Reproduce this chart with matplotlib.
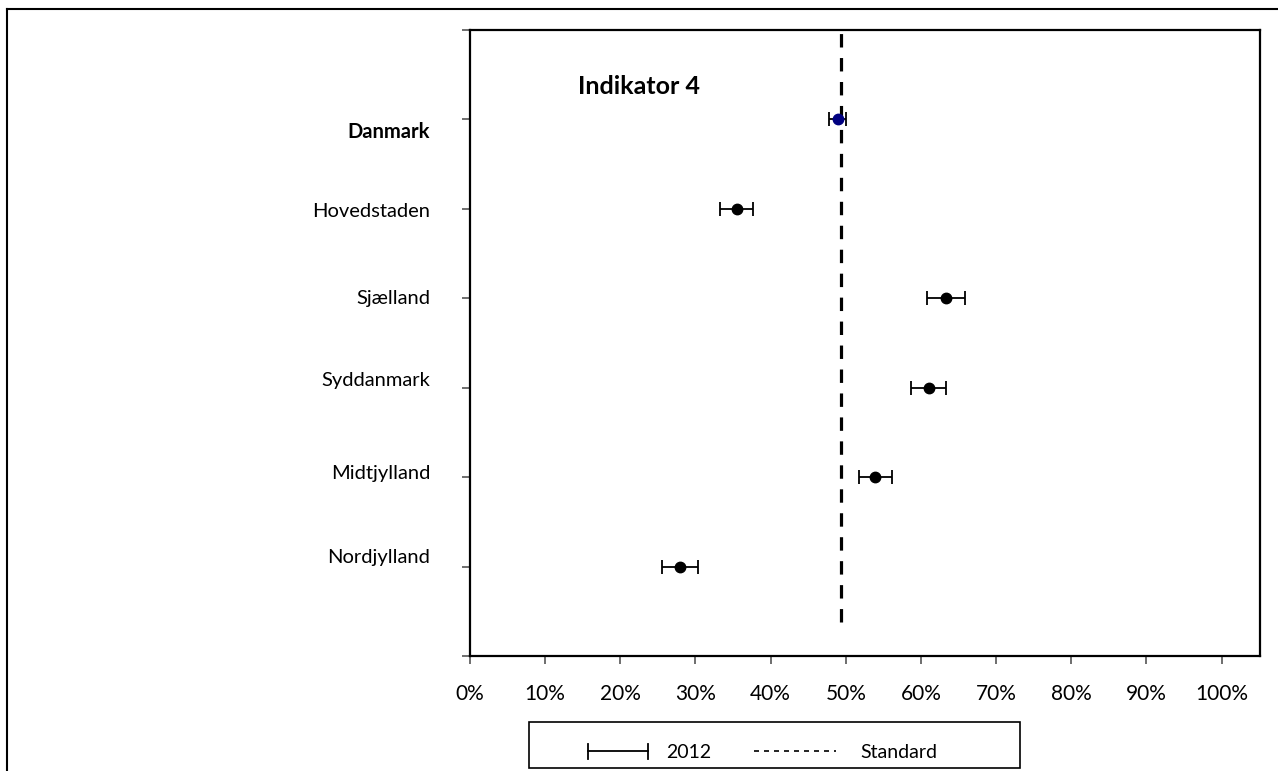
import matplotlib.pyplot as plt
from matplotlib.lines import Line2D
from matplotlib.patches import Rectangle
import numpy as np

plt.rcParams['font.family'] = ['Lato', 'DejaVu Sans']

regions = ["Danmark", "Hovedstaden", "Sjælland", "Syddanmark", "Midtjylland", "Nordjylland"]
values = [0.489, 0.355, 0.633, 0.610, 0.539, 0.279]
errors = [0.011, 0.022, 0.025, 0.023, 0.022, 0.024]
standard = 0.493
title = "Indikator 4"
xticks = np.arange(0, 1.01, 0.1)

W, H = 1278, 771
fig = plt.figure(figsize=(W / 100, H / 100), dpi=100)
ax = fig.add_axes([470 / W, 1 - 656 / H, 790 / W, 626 / H])

ypos = np.arange(len(regions), 0, -1)

# standard line
ax.plot([standard, standard], [0.38, 7], color='black', lw=2.3, dashes=(4.2, 3.3), zorder=2)

# regions with confidence intervals
for i, (v, e) in enumerate(zip(values, errors)):
    col = '#000080' if i == 0 else 'black'
    ax.errorbar(v, ypos[i], xerr=e, fmt='o', color=col, ecolor='black',
                ms=7.5, elinewidth=1.3, capsize=5, capthick=1.3, zorder=3)

ax.set_xlim(0, 1.051)
ax.set_ylim(0, 7)
ax.set_xticks(xticks)
ax.set_xticklabels([f"{int(round(t * 100))}%" for t in xticks], fontsize=15)
ax.set_yticks(np.arange(0, 8))
ax.set_yticklabels([])
ax.tick_params(axis='x', direction='out', length=6, width=1.2, color='#555555', pad=14)
ax.tick_params(axis='y', direction='out', length=6, width=1.2, color='#555555')
for s in ax.spines.values():
    s.set_linewidth(1.6)
    s.set_color('black')

# category labels to the left of the axis
label_y = [5.86, 4.97, 4.0, 3.08, 2.04, 1.1]
for i, name in enumerate(regions):
    ax.text(-0.0506, label_y[i], name, transform=ax.get_yaxis_transform(),
            ha='right', va='center', fontsize=14.5,
            fontweight='bold' if i == 0 else 'normal')

ax.text(0.2247, 6.37, title, fontsize=18, fontweight='bold', ha='center', va='center')

# legend box below the axis
def fx(px):
    return px / W

def fy(py):
    return 1 - py / H

fig.add_artist(Rectangle((fx(529), fy(768)), fx(1020) - fx(529), fy(722) - fy(768),
                         transform=fig.transFigure, fill=False, lw=1.2, ec='black'))
fig.add_artist(Line2D([fx(588), fx(648)], [fy(751), fy(751)], color='black', lw=1.3))
for cx in (588, 648):
    fig.add_artist(Line2D([fx(cx), fx(cx)], [fy(744), fy(759)], color='black', lw=1.3))
fig.text(fx(666), fy(752), "2012", fontsize=14, va='center', ha='left')
fig.add_artist(Line2D([fx(754), fx(836)], [fy(751), fy(751)], color='black', lw=1.2,
                      dashes=(3, 3)))
fig.text(fx(860), fy(752), "Standard", fontsize=14, va='center', ha='left')

# outer frame
fig.add_artist(Line2D([fx(7), 1], [fy(9), fy(9)], color='black', lw=1.5))
fig.add_artist(Line2D([fx(7), fx(7)], [0, fy(9)], color='black', lw=1.5))

fig.savefig("out.png", dpi=100)
